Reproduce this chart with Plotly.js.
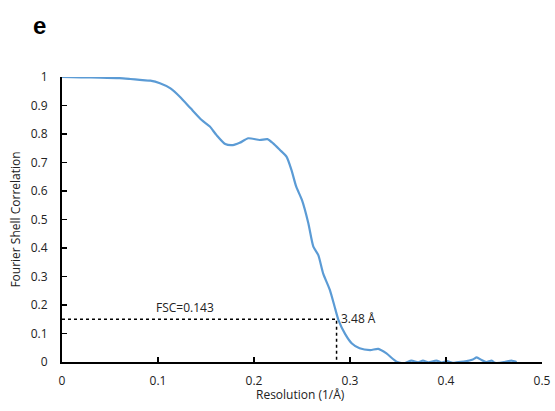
<!DOCTYPE html>
<html>
<head>
<meta charset="utf-8">
<script src="https://cdn.plot.ly/plotly-3.0.1.min.js"></script>
<style>html,body{margin:0;padding:0;background:#fff;}#chart{width:555px;height:411px;}</style>
</head>
<body>
<div id="chart"></div>
<script>
// Resolution (1/Å)
var resolution = [0, 0.02, 0.04, 0.06, 0.071, 0.081, 0.092, 0.102, 0.113, 0.123, 0.134, 0.1455, 0.154, 0.161, 0.170, 0.178, 0.185, 0.194, 0.206, 0.214, 0.220, 0.227, 0.234, 0.239, 0.244, 0.250, 0.2566, 0.2618, 0.267, 0.272, 0.279, 0.284, 0.288, 0.295, 0.302, 0.310, 0.321, 0.3295, 0.338, 0.3486, 0.357, 0.364, 0.371, 0.376, 0.3816, 0.390, 0.3955, 0.401, 0.407, 0.413, 0.420, 0.428, 0.432, 0.437, 0.442, 0.4476, 0.451, 0.456, 0.461, 0.468, 0.4736];
// Fourier Shell Correlation
var fsc = [1.0, 0.999, 0.998, 0.996, 0.993, 0.99, 0.987, 0.978, 0.96, 0.93, 0.89, 0.849, 0.826, 0.796, 0.765, 0.761, 0.769, 0.785, 0.779, 0.782, 0.767, 0.744, 0.72, 0.674, 0.615, 0.568, 0.487, 0.405, 0.375, 0.311, 0.253, 0.194, 0.147, 0.098, 0.065, 0.048, 0.042, 0.046, 0.030, 0.001, -0.004, 0.005, -0.001, 0.005, -0.001, 0.005, -0.002, 0.003, -0.003, 0.0, 0.002, 0.009, 0.016, 0.007, 0.0, 0.005, -0.003, -0.003, 0.0, 0.005, 0.0];
// Threshold guide
var cutoffRes = [0, 0.286, 0.286];
var cutoffFsc = [0.15, 0.15, 0];
var xTicks = [0, 0.1, 0.2, 0.3, 0.4, 0.5];
var yTicks = [0, 0.1, 0.2, 0.3, 0.4, 0.5, 0.6, 0.7, 0.8, 0.9, 1];

var font = 'Open Sans, Noto Sans, sans-serif';
var fs = 12;

var traces = [
  {x: cutoffRes, y: cutoffFsc, mode: 'lines', line: {color: '#000', width: 1.5, dash: 'dot'}, hoverinfo: 'skip'},
  {x: resolution, y: fsc, mode: 'lines', line: {color: '#5B9BD5', width: 2.2, shape: 'spline', smoothing: 0.6}}
];

var layout = {
  width: 555, height: 411,
  margin: {l: 62, r: 13, t: 77, b: 49},
  showlegend: false,
  paper_bgcolor: '#fff', plot_bgcolor: '#fff',
  font: {family: font, size: fs, color: '#222'},
  xaxis: {
    range: [0, 0.5], tickvals: xTicks, ticktext: xTicks.map(String),
    showgrid: false, zeroline: false, showline: true, linecolor: '#000', linewidth: 2,
    ticks: 'inside', ticklen: 5, tickwidth: 1.5, tickcolor: '#000',
    ticklabelstandoff: 7
  },
  yaxis: {
    range: [0, 1], tickvals: yTicks, ticktext: yTicks.map(String),
    showgrid: false, zeroline: false, showline: true, linecolor: '#000', linewidth: 2,
    ticks: 'inside', ticklen: 5, tickwidth: 1.5, tickcolor: '#000',
    ticklabelstandoff: 10,
    title: {text: 'Fourier Shell Correlation', font: {family: font, size: fs, color: '#222'}, standoff: 8}
  },
  annotations: [
    {xref: 'paper', yref: 'paper', x: -0.047, y: 1.18, xanchor: 'center', yanchor: 'middle', text: '<b>e</b>', showarrow: false, font: {family: 'Liberation Sans, Arial, sans-serif', size: 24, color: '#000'}},
    {xref: 'paper', yref: 'paper', x: 0.497, y: -0.114, xanchor: 'center', yanchor: 'middle', text: 'Resolution (1/Å)', showarrow: false, font: {family: font, size: fs, color: '#222'}},
    {x: 0.128, y: 0.19, xanchor: 'center', yanchor: 'middle', text: 'FSC=0.143', showarrow: false, font: {family: font, size: fs, color: '#222'}},
    {x: 0.2885, y: 0.152, xanchor: 'left', yanchor: 'middle', text: '3.48 Å', showarrow: false, font: {family: font, size: fs, color: '#222'}}
  ]
};

Plotly.newPlot('chart', traces, layout, {displayModeBar: false, staticPlot: true});
</script>
</body>
</html>
